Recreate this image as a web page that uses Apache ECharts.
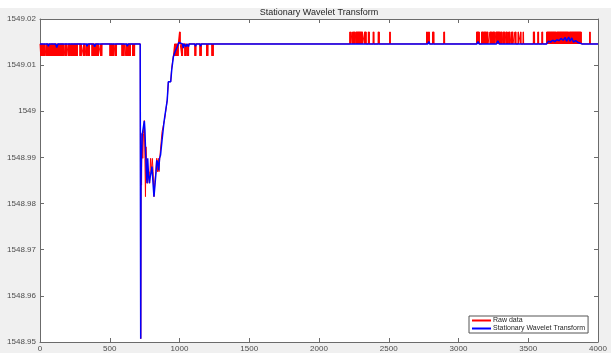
<!DOCTYPE html>
<html>
<head>
<meta charset="utf-8">
<script src="https://cdn.jsdelivr.net/npm/echarts@6/dist/echarts.min.js"></script>
<style>
  html, body { margin: 0; padding: 0; background: #f0f0f0; }
  #chart { width: 611px; height: 353px; }
</style>
</head>
<body>
<div id="chart"></div>
<script>
// Wavelength readings (nm) and their SWT-denoised version.
const baseLevel = 1549.0146;   // steady reading
const lowLevel = 1549.0120;    // one quantisation step below
const highLevel = 1549.0172;   // one quantisation step above

// Sample ranges where the raw reading flickers down to lowLevel
const rawLowBursts = [
  [5, 19], [26, 33], [43, 72], [77, 95], [100, 120], [124, 138], [143, 167],
  [179, 191], [203, 215], [222, 234], [239, 268], [287, 296], [311, 320],
  [330, 339], [347, 354], [373, 420], [435, 444], [502, 514], [521, 530],
  [540, 549], [588, 602], [616, 628], [633, 647], [664, 679],
  [964, 990], [1016, 1023], [1039, 1047], [1059, 1066], [1111, 1118],
  [1147, 1156], [1195, 1204], [1233, 1242]
];

// Sample ranges where the raw reading flickers up to highLevel
const rawHighBursts = [
  [1000, 1004],
  [2222, 2227], [2237, 2239], [2246, 2256], [2265, 2306], [2308, 2313],
  [2327, 2337], [2354, 2361], [2389, 2394], [2425, 2432], [2508, 2510],
  [2772, 2777], [2786, 2791], [2815, 2824], [2896, 2901],
  [3130, 3149], [3166, 3178], [3183, 3197], [3202, 3211], [3226, 3238],
  [3245, 3260], [3269, 3297], [3303, 3312], [3321, 3331], [3341, 3350],
  [3360, 3369], [3381, 3389], [3405, 3412], [3428, 3430], [3445, 3447],
  [3464, 3466], [3537, 3546], [3570, 3575], [3599, 3604], [3633, 3700],
  [3705, 3790], [3795, 3880], [3941, 3944]
];

// Raw readings through the disturbance around sample 720
const rawDip = [
  [719, 1549.0146], [721, 1549.0150], [722, 1548.9507], [725, 1548.9898],
  [728, 1548.9840], [731, 1548.9952], [737, 1548.9898], [742, 1548.9952],
  [748, 1548.9980], [752, 1548.9898], [756, 1548.9815], [760, 1548.9923],
  [766, 1548.9923], [770, 1548.9844], [776, 1548.9844], [781, 1548.9869],
  [786, 1548.9844], [792, 1548.9898], [798, 1548.9869], [805, 1548.9898],
  [811, 1548.9869], [817, 1548.9815], [823, 1548.9845], [830, 1548.9869],
  [836, 1548.9898], [842, 1548.9869], [848, 1548.9898], [853, 1548.9869],
  [858, 1548.9898], [866, 1548.9898], [875, 1548.9956], [884, 1548.9956],
  [892, 1548.9980], [903, 1548.9980], [912, 1549.0024], [920, 1549.0064],
  [937, 1549.0064], [944, 1549.0094], [956, 1549.0120], [962, 1549.0120]
];

// Denoised (stationary wavelet transform) curve
const swtCurve = [
  [0, 1549.0146], [55, 1549.0146], [60, 1549.0141], [66, 1549.0146],
  [112, 1549.0146], [120, 1549.0138], [128, 1549.0146], [150, 1549.0146],
  [156, 1549.0142], [162, 1549.0146], [250, 1549.0146], [256, 1549.0142],
  [262, 1549.0146], [332, 1549.0146], [337, 1549.0141], [342, 1549.0146],
  [385, 1549.0146], [392, 1549.0140], [399, 1549.0146], [404, 1549.0146],
  [410, 1549.0142], [416, 1549.0146], [540, 1549.0146], [545, 1549.0142],
  [550, 1549.0146], [620, 1549.0146], [626, 1549.0141], [632, 1549.0146],
  [636, 1549.0146], [641, 1549.0142], [646, 1549.0146], [718, 1549.0146],
  [720, 1549.0150], [721, 1549.0150],
  [722, 1548.9507], [724, 1548.9840], [727, 1548.9898], [733, 1548.9950],
  [738, 1548.9952], [743, 1548.9952], [748, 1548.9979], [752, 1548.9960],
  [757, 1548.9912], [762, 1548.9870], [767, 1548.9844], [772, 1548.9898],
  [778, 1548.9862], [784, 1548.9844], [790, 1548.9858], [797, 1548.9869],
  [803, 1548.9880], [810, 1548.9845], [817, 1548.9815], [824, 1548.9840],
  [832, 1548.9869], [837, 1548.9894], [843, 1548.9889], [851, 1548.9872],
  [857, 1548.9898], [864, 1548.9905], [875, 1548.9938], [889, 1548.9977],
  [903, 1548.9979], [912, 1549.0024], [920, 1549.0064], [937, 1549.0064],
  [944, 1549.0089], [956, 1549.0118], [968, 1549.0129], [984, 1549.0140],
  [995, 1549.0149], [1000, 1549.0152], [1006, 1549.0146], [1022, 1549.0146],
  [1027, 1549.0137], [1032, 1549.0146], [1043, 1549.0146], [1047, 1549.0140],
  [1052, 1549.0146], [1060, 1549.0146], [1065, 1549.0140], [1070, 1549.0146],
  [1110, 1549.0146], [1115, 1549.0141], [1120, 1549.0146], [1146, 1549.0146],
  [1151, 1549.0141], [1156, 1549.0146], [1196, 1549.0146], [1200, 1549.0142],
  [1205, 1549.0146], [2218, 1549.0146], [2224, 1549.0150], [2230, 1549.0146],
  [2280, 1549.0146], [2290, 1549.0149], [2300, 1549.0146], [2780, 1549.0146],
  [2787, 1549.0151], [2794, 1549.0146], [2893, 1549.0146], [2898, 1549.0150],
  [2904, 1549.0146], [3132, 1549.0146], [3140, 1549.0151], [3148, 1549.0146],
  [3185, 1549.0146], [3192, 1549.0149], [3200, 1549.0146], [3272, 1549.0146],
  [3282, 1549.0153], [3292, 1549.0146], [3535, 1549.0146], [3541, 1549.0149],
  [3547, 1549.0146], [3632, 1549.0146], [3645, 1549.0152], [3660, 1549.0150],
  [3675, 1549.0154], [3690, 1549.0151], [3705, 1549.0155], [3720, 1549.0153],
  [3735, 1549.0158], [3750, 1549.0154], [3765, 1549.0160], [3775, 1549.0152],
  [3790, 1549.0161], [3800, 1549.0152], [3812, 1549.0159], [3824, 1549.0150],
  [3840, 1549.0153], [3858, 1549.0149], [3872, 1549.0152], [3885, 1549.0146],
  [3938, 1549.0146], [3942, 1549.0150], [3946, 1549.0146], [3940, 1549.0146],
  [4000, 1549.0146]
].sort((a, b) => a[0] - b[0]);

const xTicks = { min: 0, max: 4000, step: 500 };
const yTicks = { min: 1548.95, max: 1549.02, step: 0.01 };

// Assemble the raw trace: steady level, flicker bursts, and the disturbance.
function buildRaw() {
  const pts = [[0, baseLevel]];
  const bursts = rawLowBursts.map(b => [b[0], b[1], lowLevel])
    .concat(rawHighBursts.map(b => [b[0], b[1], highLevel]))
    .sort((a, b) => a[0] - b[0]);
  let dipDone = false;
  bursts.forEach(([a, b, lvl]) => {
    if (!dipDone && a > rawDip[0][0]) {
      rawDip.forEach(p => pts.push(p));
      dipDone = true;
    }
    if (dipDone === false || a > rawDip[rawDip.length - 1][0]) {
      if (pts[pts.length - 1][1] === baseLevel || !dipDone) pts.push([a - 1, baseLevel]);
    }
    for (let x = a; x <= b; x++) {
      pts.push([x, (x - a) % 2 === 0 ? lvl : baseLevel]);
    }
    pts.push([b + 1, baseLevel]);
  });
  pts.push([4000, baseLevel]);
  return pts;
}
const rawSeries = buildRaw();

const chart = echarts.init(document.getElementById('chart'), null, { renderer: 'canvas' });

const axisColor = '#6b6b6b';
const labelColor = '#4d4d4d';
const fontFamily = 'Liberation Sans, Arial, sans-serif';

const grid = { left: 40, right: 13, top: 19, bottom: 11 };

function xAxis(pos, showLabels) {
  return {
    type: 'value', position: pos, min: xTicks.min, max: xTicks.max, interval: xTicks.step,
    axisLine: { show: true, onZero: false, lineStyle: { color: axisColor, width: 1 } },
    axisTick: { show: true, inside: true, length: 4, lineStyle: { color: axisColor } },
    axisLabel: {
      show: showLabels, color: labelColor, fontSize: 8, fontFamily: fontFamily, margin: 3,
      formatter: v => String(v)
    },
    splitLine: { show: false }
  };
}
function yAxis(pos, showLabels) {
  return {
    type: 'value', position: pos, min: yTicks.min, max: yTicks.max, interval: yTicks.step,
    axisLine: { show: true, onZero: false, lineStyle: { color: axisColor, width: 1 } },
    axisTick: { show: true, inside: true, length: 4, lineStyle: { color: axisColor } },
    axisLabel: {
      show: showLabels, color: labelColor, fontSize: 8, fontFamily: fontFamily, margin: 4,
      formatter: v => String(Number(v.toFixed(2)))
    },
    splitLine: { show: false }
  };
}

chart.setOption({
  animation: false,
  backgroundColor: '#f0f0f0',
  graphic: [{
    type: 'rect', left: 0, top: 0, z: -10,
    shape: { width: 611, height: 8 }, style: { fill: '#ffffff' }
  }, {
    type: 'rect', left: grid.left, top: grid.top, z: -10,
    shape: { width: 611 - grid.left - grid.right, height: 353 - grid.top - grid.bottom },
    style: { fill: '#ffffff' }
  }],
  title: {
    text: 'Stationary Wavelet Transform',
    left: 319, top: 8, padding: 0, textAlign: 'center',
    textStyle: { fontSize: 9, fontWeight: 'normal', color: '#262626', fontFamily: fontFamily }
  },
  grid: grid,
  xAxis: [xAxis('bottom', true), xAxis('top', false)],
  yAxis: [yAxis('left', true), yAxis('right', false)],
  legend: {
    orient: 'vertical',
    left: 469, top: 316,
    width: 116,
    padding: [1, 3, 1, 3],
    itemGap: 1,
    itemWidth: 19, itemHeight: 2,
    icon: 'rect',
    backgroundColor: '#ffffff',
    borderColor: '#555555', borderWidth: 1, borderRadius: 0,
    textStyle: { fontSize: 7, color: '#262626', fontFamily: fontFamily, padding: [0, 0, 0, -3], lineHeight: 7 },
    data: ['Raw data', 'Stationary Wavelet Transform']
  },
  series: [{
    name: 'Raw data', type: 'line', data: rawSeries,
    showSymbol: false, symbol: 'none', sampling: null,
    color: '#ff0000',
    lineStyle: { color: '#ff0000', width: 1 },
    z: 2
  }, {
    name: 'Stationary Wavelet Transform', type: 'line', data: swtCurve,
    showSymbol: false, symbol: 'none',
    color: '#0000ff',
    lineStyle: { color: '#0000ff', width: 1.5 },
    z: 3
  }]
});
</script>
</body>
</html>
